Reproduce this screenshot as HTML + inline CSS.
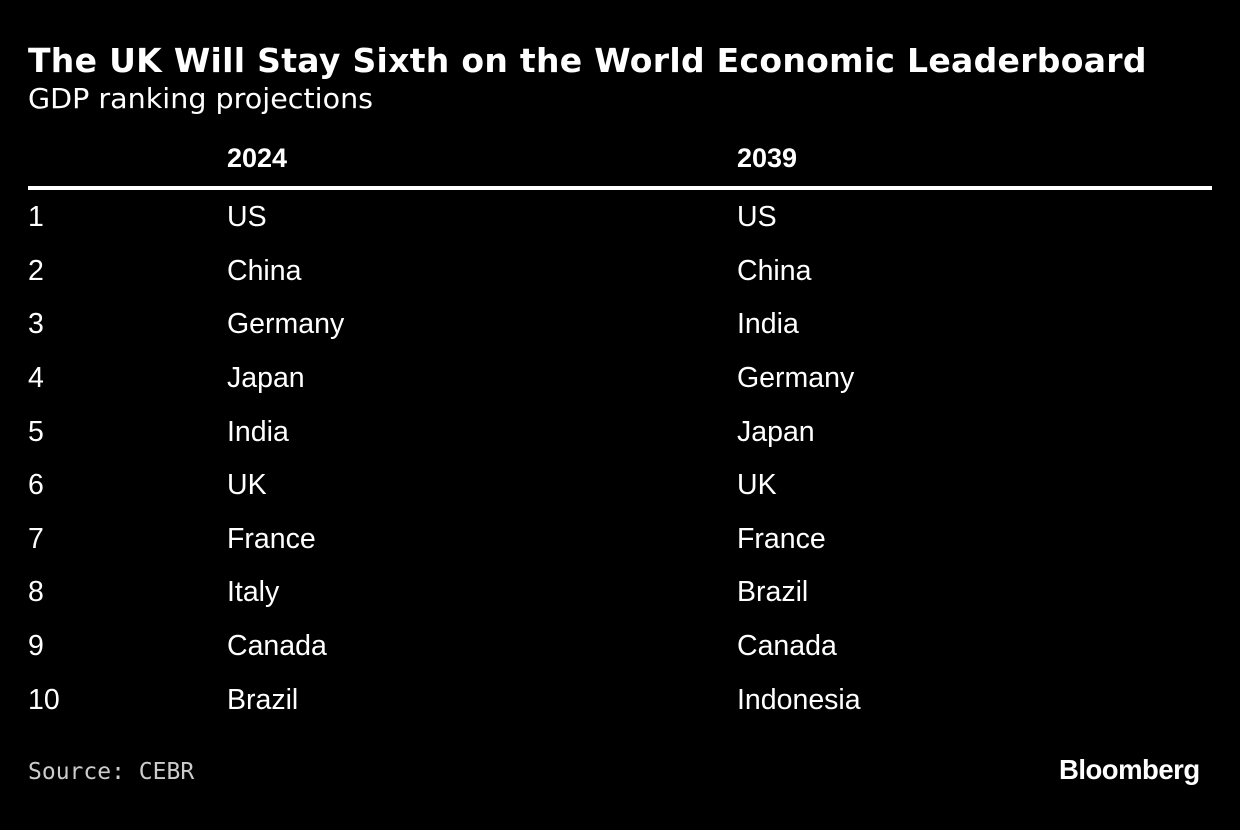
<!DOCTYPE html>
<html><head><style>
body{margin:0;width:1240px;height:830px;background:#000;color:#fff;position:relative;overflow:hidden;font-family:"Liberation Sans",sans-serif}
.a{position:absolute;white-space:nowrap}
.t{left:28px;top:41px;font-family:"DejaVu Sans",sans-serif;font-weight:bold;font-size:33px;letter-spacing:0.3px}
.s{left:28px;top:82px;font-family:"DejaVu Sans",sans-serif;font-size:28px;transform:scaleX(1.02);transform-origin:left}
.h{font-weight:bold;font-size:27px;top:143px}
.r{font-size:28.5px}
.line{position:absolute;left:28px;width:1184px;top:186px;height:4px;background:#fff}
.src{left:28px;top:759px;font-family:"DejaVu Sans Mono","Liberation Mono",monospace;font-size:23px;color:#ccc}
.bb{left:1059px;top:754px;font-weight:bold;font-size:27.5px;letter-spacing:-0.5px}
</style></head><body>
<div class="a t">The UK Will Stay Sixth on the World Economic Leaderboard</div>
<div class="a s">GDP ranking projections</div>
<div class="a h" style="left:227px">2024</div>
<div class="a h" style="left:737px">2039</div>
<div class="line"></div>
<div class="a r" style="left:28px;top:201px">1</div><div class="a r" style="left:227px;top:201px">US</div><div class="a r" style="left:737px;top:201px">US</div>
<div class="a r" style="left:28px;top:255px">2</div><div class="a r" style="left:227px;top:255px">China</div><div class="a r" style="left:737px;top:255px">China</div>
<div class="a r" style="left:28px;top:308px">3</div><div class="a r" style="left:227px;top:308px">Germany</div><div class="a r" style="left:737px;top:308px">India</div>
<div class="a r" style="left:28px;top:362px">4</div><div class="a r" style="left:227px;top:362px">Japan</div><div class="a r" style="left:737px;top:362px">Germany</div>
<div class="a r" style="left:28px;top:416px">5</div><div class="a r" style="left:227px;top:416px">India</div><div class="a r" style="left:737px;top:416px">Japan</div>
<div class="a r" style="left:28px;top:469px">6</div><div class="a r" style="left:227px;top:469px">UK</div><div class="a r" style="left:737px;top:469px">UK</div>
<div class="a r" style="left:28px;top:523px">7</div><div class="a r" style="left:227px;top:523px">France</div><div class="a r" style="left:737px;top:523px">France</div>
<div class="a r" style="left:28px;top:576px">8</div><div class="a r" style="left:227px;top:576px">Italy</div><div class="a r" style="left:737px;top:576px">Brazil</div>
<div class="a r" style="left:28px;top:630px">9</div><div class="a r" style="left:227px;top:630px">Canada</div><div class="a r" style="left:737px;top:630px">Canada</div>
<div class="a r" style="left:28px;top:684px">10</div><div class="a r" style="left:227px;top:684px">Brazil</div><div class="a r" style="left:737px;top:684px">Indonesia</div>
<div class="a src">Source: CEBR</div>
<div class="a bb">Bloomberg</div>
</body></html>
